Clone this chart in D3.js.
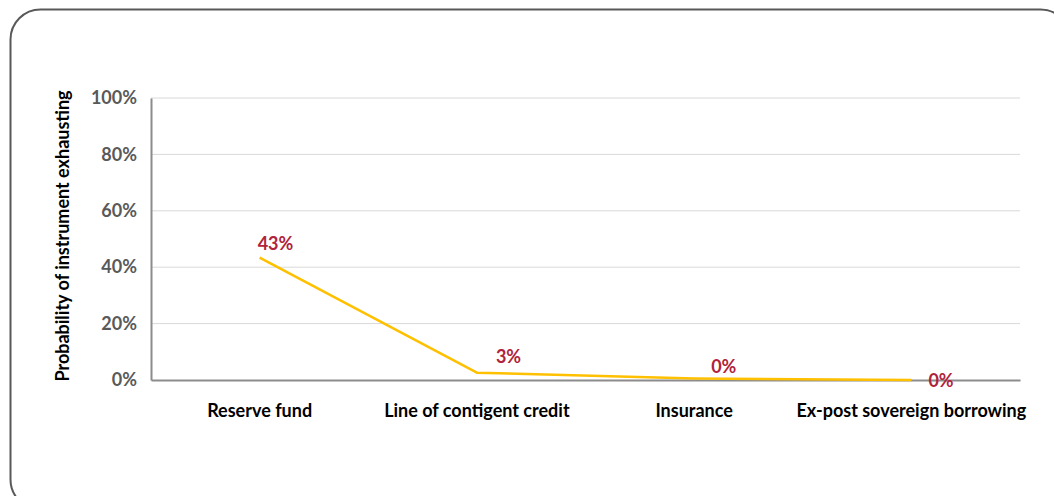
<!DOCTYPE html>
<html>
<head>
<meta charset="utf-8">
<script src="https://cdn.jsdelivr.net/npm/d3@7"></script>
<style>
  html, body { margin: 0; padding: 0; background: #fff; }
  svg { display: block; font-family: Lato, "Open Sans", sans-serif; }
</style>
</head>
<body>
<svg id="chart" width="1054" height="496"></svg>
<script>
// Probability that each financing instrument is exhausted
const categories = ["Reserve fund", "Line of contigent credit", "Insurance", "Ex-post sovereign borrowing"];
const probabilities = [43.4, 2.6, 0.49, 0];
const yTicks = [0, 20, 40, 60, 80, 100];
const yTitle = "Probability of instrument exhausting";

const svg = d3.select("#chart");

// Rounded frame around the whole panel
svg.append("rect")
  .attr("x", 10.5).attr("y", 9.5)
  .attr("width", 1060).attr("height", 500)
  .attr("rx", 30).attr("ry", 30)
  .attr("fill", "none")
  .attr("stroke", "#595959")
  .attr("stroke-width", 2);

const plot = { left: 151, right: 1020, top: 98, bottom: 380 };

const x = d3.scaleBand()
  .domain(categories)
  .range([plot.left, plot.right])
  .paddingInner(0).paddingOuter(0);

const y = d3.scaleLinear()
  .domain([0, 100])
  .range([plot.bottom, plot.top]);

// Horizontal gridlines
svg.append("g")
  .selectAll("line")
  .data(yTicks.filter(t => t > 0))
  .join("line")
  .attr("x1", plot.left).attr("x2", plot.right)
  .attr("y1", d => y(d)).attr("y2", d => y(d))
  .attr("stroke", "#d9d9d9")
  .attr("stroke-width", 1);

// Y axis
const yAxis = svg.append("g")
  .attr("transform", `translate(${plot.left},0)`)
  .call(d3.axisLeft(y).tickValues(yTicks).tickFormat(d => d + "%").tickSize(0).tickPadding(14));
yAxis.select(".domain").attr("stroke", "#8c8c8c").attr("stroke-width", 2);
yAxis.selectAll("text")
  .attr("fill", "#595959")
  .attr("font-size", 18)
  .attr("font-weight", 700)
  .attr("font-family", "Lato, sans-serif");

// X axis
const xAxis = svg.append("g")
  .attr("transform", `translate(0,${plot.bottom})`)
  .call(d3.axisBottom(x).tickSize(0).tickPadding(24));
xAxis.select(".domain").attr("stroke", "#8c8c8c").attr("stroke-width", 2);
xAxis.selectAll("text")
  .attr("fill", "#000")
  .attr("font-size", 18)
  .attr("font-weight", 700)
  .attr("font-family", "Lato, sans-serif");

// Y axis title
svg.append("text")
  .attr("transform", `translate(69,${(plot.top + plot.bottom) / 2 - 3}) rotate(-90)`)
  .attr("text-anchor", "middle")
  .attr("font-size", 18)
  .attr("font-weight", 700)
  .attr("fill", "#000")
  .text(yTitle);

// Data line
const line = d3.line()
  .x((d, i) => x(categories[i]) + x.bandwidth() / 2)
  .y(d => y(d));

svg.append("path")
  .datum(probabilities)
  .attr("d", line)
  .attr("fill", "none")
  .attr("stroke", "#FFC000")
  .attr("stroke-width", 2.5)
  .attr("stroke-linejoin", "round");

// Value labels (offsets relative to each point)
const labelOffsets = [[-2, -8], [19, -10], [17, -6], [17, 7]];
svg.append("g")
  .selectAll("text")
  .data(probabilities)
  .join("text")
  .attr("x", (d, i) => x(categories[i]) + x.bandwidth() / 2 + labelOffsets[i][0])
  .attr("y", (d, i) => y(d) + labelOffsets[i][1])
  .attr("font-size", 18)
  .attr("font-weight", 700)
  .attr("fill", "#B0233A")
  .text(d => Math.round(d) + "%");
</script>
</body>
</html>
